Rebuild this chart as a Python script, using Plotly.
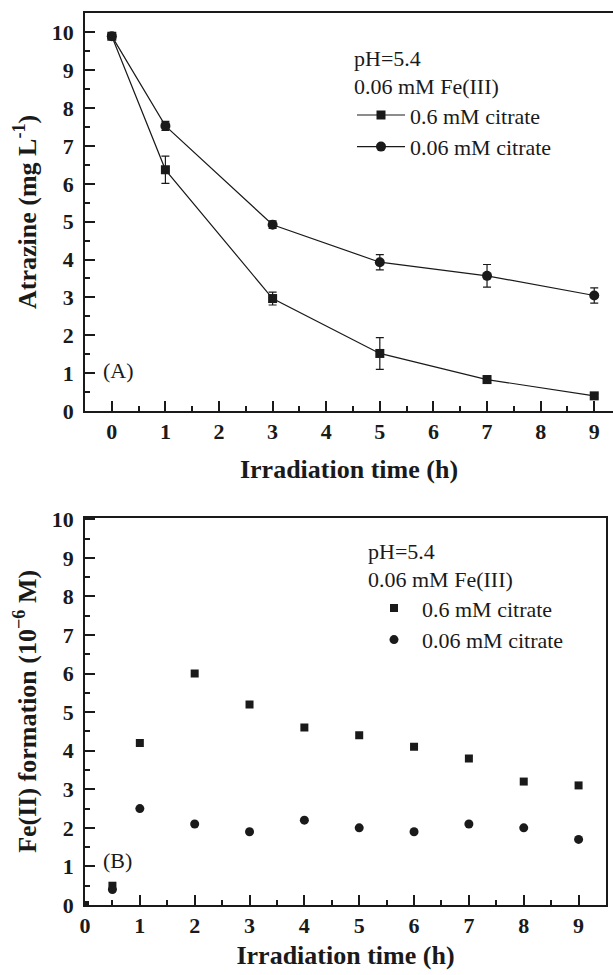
import plotly.graph_objects as go

# ---- Panel A data ----
time_a = [0, 1, 3, 5, 7, 9]
atz_06 = [9.9, 6.37, 2.97, 1.52, 0.83, 0.40]
atz_06_err = [0.05, 0.36, 0.17, 0.42, 0.10, 0.05]
atz_006 = [9.9, 7.53, 4.92, 3.93, 3.57, 3.05]
atz_006_err = [0.05, 0.12, 0.10, 0.20, 0.30, 0.20]

# ---- Panel B data ----
time_b = [0, 0.5, 1, 2, 3, 4, 5, 6, 7, 8, 9]
fe_06 = [0, 0.5, 4.2, 6.0, 5.2, 4.6, 4.4, 4.1, 3.8, 3.2, 3.1]
time_b2 = [0.5, 1, 2, 3, 4, 5, 6, 7, 8, 9]
fe_006 = [0.4, 2.5, 2.1, 1.9, 2.2, 2.0, 1.9, 2.1, 2.0, 1.7]

tick_vals = [0, 1, 2, 3, 4, 5, 6, 7, 8, 9]
y_ticks = [0, 1, 2, 3, 4, 5, 6, 7, 8, 9, 10]

W, H = 613, 975
FONT = "Liberation Serif"
INK = "#1a1a1a"

fig = go.Figure()

fig.add_trace(go.Scatter(
    x=time_a, y=atz_06, name="0.6 mM citrate", mode="lines+markers",
    line=dict(color=INK, width=1.2),
    marker=dict(symbol="square", size=9, color=INK),
    error_y=dict(type="data", array=atz_06_err, color=INK, thickness=1.2, width=4),
    xaxis="x", yaxis="y", legend="legend"))
fig.add_trace(go.Scatter(
    x=time_a, y=atz_006, name="0.06 mM citrate", mode="lines+markers",
    line=dict(color=INK, width=1.2),
    marker=dict(symbol="circle", size=10, color=INK),
    error_y=dict(type="data", array=atz_006_err, color=INK, thickness=1.2, width=4),
    xaxis="x", yaxis="y", legend="legend"))

fig.add_trace(go.Scatter(
    x=time_b, y=fe_06, name="0.6 mM citrate", mode="markers",
    marker=dict(symbol="square", size=8, color=INK),
    xaxis="x2", yaxis="y2", legend="legend2"))
fig.add_trace(go.Scatter(
    x=time_b2, y=fe_006, name="0.06 mM citrate", mode="markers",
    marker=dict(symbol="circle", size=9, color=INK),
    xaxis="x2", yaxis="y2", legend="legend2"))

tickfont = dict(family=FONT, size=22, color=INK, weight="bold")
titlefont = dict(family=FONT, size=26, color=INK, weight="bold")

def xax(domain, rng, anchor, standoff):
    return dict(domain=domain, range=rng, anchor=anchor, tickvals=tick_vals,
                ticks="inside", ticklen=10, tickwidth=1.5, tickcolor=INK,
                minor=dict(ticks="inside", ticklen=5, tickwidth=1.5, dtick=0.5, tickcolor=INK),
                showline=True, linecolor=INK, linewidth=1.8, mirror=True,
                showgrid=False, zeroline=False, tickfont=tickfont,
                ticklabelstandoff=0, automargin=False,
                title=dict(text="Irradiation time (h)", font=titlefont, standoff=standoff))

def yax(domain, rng, anchor, title):
    return dict(domain=domain, range=rng, anchor=anchor, tickvals=y_ticks,
                ticks="inside", ticklen=10, tickwidth=1.5, tickcolor=INK,
                minor=dict(ticks="inside", ticklen=5, tickwidth=1.5, dtick=0.5, tickcolor=INK),
                showline=True, linecolor=INK, linewidth=1.8,
                showgrid=False, zeroline=False, tickfont=tickfont,
                ticklabelstandoff=5, automargin=False,
                title=dict(text=title, font=titlefont, standoff=8))

xa = xax([85 / W, 1.0], [-0.5, 9.35], "y", 17)
ya = yax([1 - 411 / H, 1 - 12.7 / H], [0, 10.52], "x", "Atrazine (mg L<sup>-1</sup>)")
xb = xax([85 / W, 606 / W], [0, 9.5], "y2", 9)
yb = yax([1 - 905 / H, 1 - 517.7 / H], [0, 10.04], "x2", "Fe(II) formation (10<sup>−6</sup> M)")
yb["mirror"] = True

legfont = dict(family=FONT, size=22, color=INK)

fig.update_layout(
    template="none",
    width=W, height=H,
    margin=dict(l=0, r=0, t=0, b=0, pad=0),
    paper_bgcolor="white", plot_bgcolor="white",
    showlegend=True,
    xaxis=xa, yaxis=ya, xaxis2=xb, yaxis2=yb,
    legend=dict(x=352 / W, y=1 - 37 / H, xanchor="left", yanchor="top",
                bgcolor="rgba(0,0,0,0)", borderwidth=0, font=legfont, tracegroupgap=0,
                itemwidth=48,
                title=dict(text="pH=5.4<br>0.06 mM Fe(III)", font=legfont, side="top")),
    legend2=dict(x=366 / W, y=1 - 530 / H, xanchor="left", yanchor="top",
                 bgcolor="rgba(0,0,0,0)", borderwidth=0, font=legfont, tracegroupgap=0,
                 itemwidth=46,
                 title=dict(text="pH=5.4<br>0.06 mM Fe(III)", font=legfont, side="top")),
    annotations=[
        dict(text="(A)", x=0.12, y=1.08, xref="x", yref="y", showarrow=False,
             font=dict(family=FONT, size=22, color=INK)),
        dict(text="(B)", x=0.6, y=1.15, xref="x2", yref="y2", showarrow=False,
             font=dict(family=FONT, size=22, color=INK)),
    ],
)

fig.write_html("out.html", config={"displayModeBar": False},
               post_script="document.body.style.margin='0';")
